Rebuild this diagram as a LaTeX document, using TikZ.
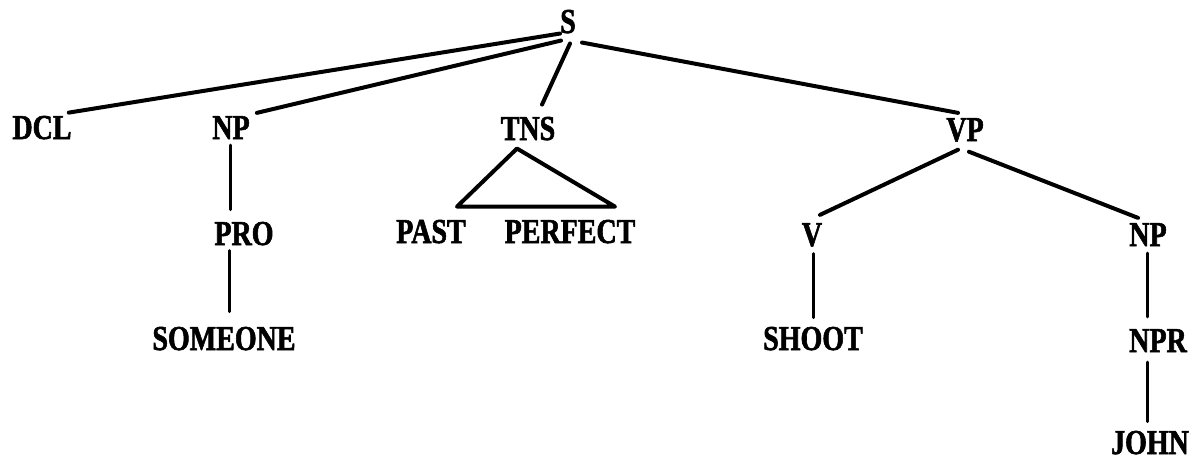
\documentclass[tikz,border=0pt]{standalone}
\usepackage{fontspec}
\newfontfamily\treefont[FakeStretch=0.8,FakeBold=1.6]{Liberation Serif}
\usetikzlibrary{calc}
\begin{document}
\begin{tikzpicture}[x=1pt,y=-1pt,
  lab/.style={font={\treefont\bfseries\fontsize{35}{35}\selectfont}, inner sep=0pt, anchor=base},
  edge/.style={line width=4pt, line cap=round},
  vedge/.style={line width=3pt, line cap=round}]
\useasboundingbox[fill=white] (0,0) rectangle (1193,460);
% nodes
\node[lab] (S) at (568,33) {S};
\node[lab] (DCL) at (42,139) {DCL};
\node[lab] (NP1) at (231,139) {NP};
\node[lab] (TNS) at (528,140) {TNS};
\node[lab] (VP) at (965,141) {VP};
\node[lab] (PRO) at (244,245) {PRO};
\node[lab] (PAST) at (431,243) {PAST};
\node[lab] (PERF) at (570,243) {PERFECT};
\node[lab] (V) at (812,246) {V};
\node[lab] (NP2) at (1148,246) {NP};
\node[lab] (SOME) at (224,350) {SOMEONE};
\node[lab] (SHOOT) at (813,350) {SHOOT};
\node[lab] (NPR) at (1158,352) {NPR};
\node[lab] (JOHN) at (1150,454) {JOHN};
% edges from S
\draw[edge] (S.south west) -- ($(DCL.north east)+(-3,-3)$);
\draw[edge] ($(S.south west)+(1,7)$) -- ($(NP1.north east)+(7,-3)$);
\draw[edge] ($(S.south)+(2,10)$) -- ($(TNS.north)+(14,-12)$);
\draw[edge] ($(S.south east)+(6,9)$) -- ($(VP.north)+(-7,-5)$);
% triangle under TNS
\coordinate (apex) at ($(TNS.south)+(-11,8)$);
\coordinate (tl) at ($(PAST.north)+(26,-13)$);
\coordinate (tr) at ($(PERF.north)+(45,-13)$);
\draw[edge, line join=round] (apex) -- (tl) -- (tr) -- cycle;
% VP branches
\draw[edge] ($(VP.south)+(-7,8)$) -- ($(V.north)+(8,-8)$);
\draw[edge] ($(VP.south)+(4,10)$) -- ($(NP2.north)+(-10,-5)$);
% vertical edges
\draw[vedge] ($(NP1.south)+(-1,6)$) -- ($(NP1.south |- PRO.north)+(-1,-12)$);
\draw[vedge] ($(SOME.north |- PRO.south)+(5,5)$) -- ($(SOME.north)+(5,-15)$);
\draw[vedge] ($(V.south)+(1,7)$) -- ($(SHOOT.north)+(0,-9)$);
\draw[vedge] ($(NP2.south)+(-1,7)$) -- ($(NP2.south |- NPR.north)+(-1,-12)$);
\draw[vedge] ($(JOHN.north |- NPR.south)+(-3,10)$) -- ($(JOHN.north)+(-3,-9)$);
\end{tikzpicture}
\end{document}
